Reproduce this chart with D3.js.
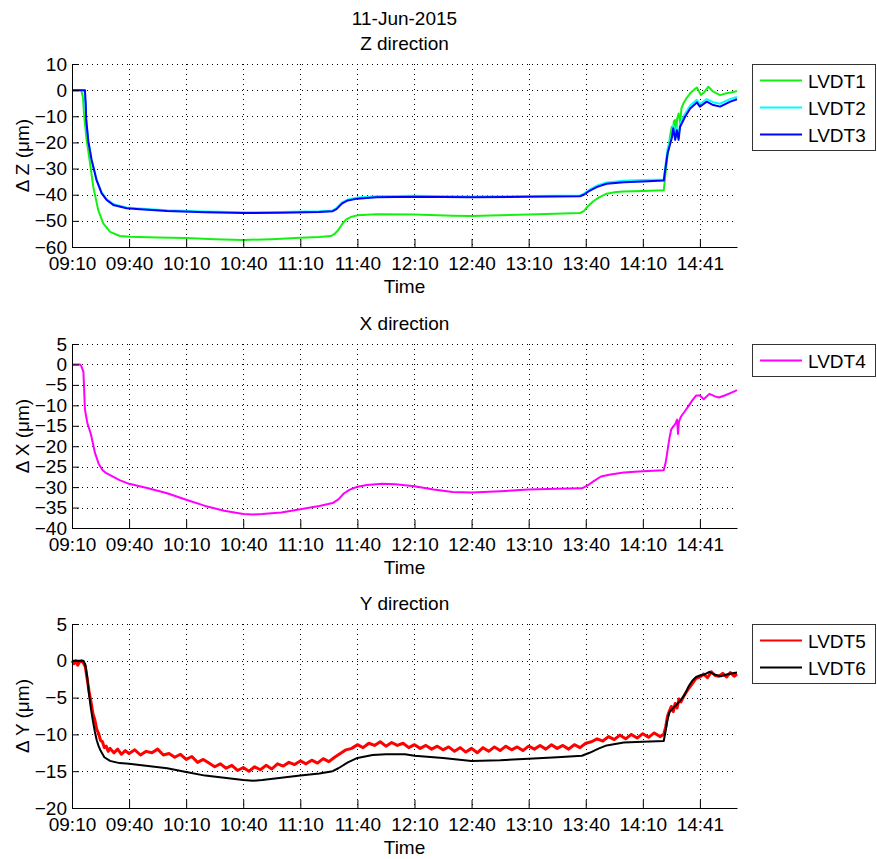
<!DOCTYPE html>
<html>
<head>
<meta charset="utf-8">
<script src="https://cdn.jsdelivr.net/npm/d3@7/dist/d3.min.js"></script>
<style>
  html, body { margin: 0; padding: 0; background: #fff; }
  svg { display: block; font-family: "Liberation Sans", Arial, Helvetica, sans-serif; }
  .axis text { font-size: 19px; fill: #000; font-family: "Liberation Sans", Arial, Helvetica, sans-serif; }
  .axis path, .axis line { stroke: #000; stroke-width: 1; }
  .grid line { stroke: #000; stroke-width: 1; stroke-dasharray: 1 4; }
</style>
</head>
<body>
<script>
// ---------- data ----------
const dateTitle = "11-Jun-2015";
const xTickMinutes = [0, 30, 60, 90, 120, 150, 180, 210, 240, 270, 300, 330];
const xTickLabels = ["09:10", "09:40", "10:10", "10:40", "11:10", "11:40", "12:10", "12:40", "13:10", "13:40", "14:10", "14:41"];
const xMaxMinutes = 349.5;

// Z direction
const t1 = [0,4,5,5.8,6.3,7.7,9.5,11.2,13.8,16.4,20,25.2,30.5,45,60,75,90,105,120,130,136,138,140,142,144,147,150,160,180,200,210,240,267,269,271,274,277,281,286,290,300,311,311.5,312.5,313.5,314.3,315.2,315.8,316.3,317,317.5,318,318.8,319.6,320.3,321.4,323,324.9,327,328.4,330.5,332,334.5,337,340.6,344,347,349.5];
const lvdt1 = [0,0,-0.3,-3,-8.9,-19.1,-28,-37,-45.9,-51,-54.2,-55.8,-56.1,-56.4,-56.6,-57,-57.3,-57,-56.5,-56.2,-55.8,-55,-53.5,-51.2,-49.5,-48.4,-47.9,-47.5,-47.6,-48,-48.1,-47.6,-47,-46.3,-44.5,-42.5,-41,-39.6,-39,-38.8,-38.6,-38.3,-35,-28,-22,-17.8,-14,-16.5,-12,-11.4,-17.8,-11,-8.9,-12.7,-7,-5,-3,-1.2,0.2,1,-1.8,-1,1.3,-0.6,-1.9,-1.2,-0.8,-0.3];

const t2 = [0,6.5,7,7.4,8.5,10.2,12.8,15.5,18,21.5,28.5,35.5,50,70,90,110,130,137,139,142,145,150,160,180,210,240,267,269,272,276,281,290,300,311,311.5,313,315.2,316,317,317.9,318.8,319.6,322.2,324.9,328.4,330,333.6,337,340.6,346,349.5];
const lvdt2 = [0,0,-5,-11,-19.2,-26.2,-33.9,-39,-41.6,-43.5,-44.9,-45.3,-45.9,-46.4,-46.7,-46.6,-46.3,-46,-45.1,-42.9,-41.8,-41.1,-40.6,-40.4,-40.7,-40.5,-40.3,-39.6,-38.1,-36.5,-35.3,-34.7,-34.4,-34.2,-31,-22.5,-17.2,-13.5,-17.5,-14.2,-17.8,-12.8,-9,-5.9,-3.7,-5.3,-3.4,-4.6,-5.2,-3.4,-2.6];

const t3 = [0,6.8,7.2,7.5,8.6,10.3,12.9,15.6,18.2,21.7,28.7,35.7,50,70,90,110,130,137,139,142,145,150,160,180,210,240,267,269,272,276,281,290,300,311,311.5,313,315.2,316,317,317.9,318.8,319.6,322.2,324.9,328.4,330,333.6,337,340.6,346,349.5];
const lvdt3 = [0,0,-5,-11.5,-19.7,-26.7,-34.4,-39.5,-42,-43.9,-45.2,-45.6,-46.2,-46.7,-47,-46.9,-46.6,-46.3,-45.5,-43.3,-42.2,-41.5,-41,-40.8,-41,-40.8,-40.6,-40,-38.5,-37,-35.8,-35.2,-34.9,-34.6,-32,-24.2,-18.4,-14.6,-19,-15.3,-19,-14,-10.2,-7,-4.7,-6.3,-4.4,-5.7,-6.3,-4.4,-3.5];

// X direction
const t4 = [0,4.2,5,6,6.8,8,10,12,14,16,18,25,30,40,50,60,70,80,90,95,100,110,120,130,137,140,143,146,150,155,163,170,180,190,200,210,225,240,255,268,271,274,278,283,290,300,311,312,313,314,315,316,317,318,318.5,319,320,322,324,326,328,330,332,335,338,340,343,346,349.5];
const lvdt4 = [0,0,-0.5,-1.8,-11,-14.2,-17.2,-21.5,-24.3,-25.8,-26.6,-28.3,-29.2,-30.3,-31.5,-33.1,-34.6,-35.8,-36.6,-36.7,-36.6,-36.2,-35.4,-34.6,-33.9,-33,-31.5,-30.6,-29.9,-29.5,-29.2,-29.3,-29.8,-30.6,-31.2,-31.3,-31,-30.6,-30.4,-30.3,-29.6,-28.6,-27.4,-26.9,-26.4,-26.1,-25.9,-24,-21,-18,-15.8,-15.2,-14.6,-13.5,-17,-14,-12.8,-11.5,-10.2,-8.8,-7.6,-7.6,-8.5,-7.2,-7.8,-8.1,-7.6,-7,-6.3];

// Y direction
const t5 = [0,1,2,3,4,5,6,7,8,9,10,11,12,13,14,15,16,17,18,19,20,22,24,26,28,30,33,36,39,42,45,48,51,54,57,60,63,66,69,72,75,78,81,84,87,90,93,96,99,102,105,108,111,114,117,120,123,126,129,132,135,138,141,144,147,150,153,156,159,162,165,168,171,174,177,180,183,186,189,192,195,198,201,204,207,210,213,216,219,222,225,228,231,234,237,240,243,246,249,252,255,258,261,264,267,270,273,276,279,282,285,288,291,294,297,300,303,306,309,311,312,313,314,315,316,317,318,319,320,322,324,326,328,330,332,334,336,338,340,342,344,346,348,349.5];
const lvdt5 = [0,-0.4,0,-0.6,-0.1,0,-0.3,-0.8,-2.5,-4.2,-5.6,-7.2,-8.0,-9.3,-9.9,-10.8,-11.0,-11.8,-11.6,-12.3,-11.9,-12.5,-12.0,-12.7,-12.2,-12.6,-12.1,-12.8,-12.3,-12.5,-12.0,-12.8,-12.6,-13.1,-12.7,-13.4,-13.0,-13.8,-13.4,-13.9,-14.4,-14.0,-14.6,-14.2,-14.9,-14.5,-15.0,-14.4,-14.8,-14.2,-14.7,-14.0,-14.3,-13.8,-14.1,-13.6,-14.0,-13.5,-13.9,-13.3,-13.7,-13.1,-12.6,-12.1,-11.9,-11.4,-11.8,-11.2,-11.5,-11.0,-11.6,-11.1,-11.5,-11.2,-11.8,-11.4,-11.9,-11.5,-12.0,-11.6,-12.1,-11.7,-12.3,-11.8,-12.4,-11.9,-12.5,-11.8,-12.3,-11.7,-12.2,-11.6,-12.1,-11.7,-12.2,-11.6,-12.0,-11.5,-12.0,-11.4,-11.9,-11.5,-12.0,-11.4,-11.8,-11.2,-11.0,-10.6,-10.9,-10.3,-10.7,-10.1,-10.6,-10.0,-10.5,-9.9,-10.4,-9.8,-10.3,-10.0,-9.0,-7.5,-6.8,-6.2,-6.9,-5.8,-6.4,-5.2,-5.6,-4.6,-3.8,-3.1,-2.4,-2.2,-1.8,-2.3,-1.5,-2.0,-2.1,-1.7,-2.2,-1.6,-2.1,-1.8];

const t6 = [0,6,7,8,9,10,11,12,13,14,15,17,20,25,30,40,50,60,70,80,90,95,100,110,120,130,137,140,145,150,158,165,175,180,195,210,225,240,255,268,272,277,281,290,300,311,312,313,314,316,318,320,322,324,326,328,330,332,335,338,341,345,349.5];
const lvdt6 = [0,0,-0.5,-2.2,-4.7,-6.6,-8.2,-9.6,-10.8,-11.6,-12.2,-13.1,-13.6,-13.9,-14.0,-14.3,-14.6,-15.1,-15.6,-15.9,-16.2,-16.3,-16.2,-15.9,-15.6,-15.3,-15.0,-14.6,-13.8,-13.2,-12.8,-12.7,-12.7,-12.9,-13.2,-13.6,-13.5,-13.3,-13.1,-12.9,-12.5,-11.9,-11.5,-11.1,-11.0,-10.9,-9.5,-8.0,-7.0,-6.4,-5.9,-5.3,-4.6,-3.5,-2.7,-2.2,-2.0,-1.9,-1.5,-1.9,-2.1,-1.8,-1.6];

const zTicks = [-60,-50,-40,-30,-20,-10,0,10];
const xdirTicks = [-40,-35,-30,-25,-20,-15,-10,-5,0,5];
const ydirTicks = [-20,-15,-10,-5,0,5];

// ---------- layout ----------
const W = 877, H = 859;
const svg = d3.select("body").append("svg").attr("width", W).attr("height", H);
const x = d3.scaleLinear().domain([0, xMaxMinutes]).range([72, 737]);
const FONT = 19;

const panels = [
  { top: 64, bottom: 247, domain: [-60, 10], ticks: zTicks, title: "Z direction", ylabel: "\u0394 Z (\u03bcm)",
    series: [ {name:"LVDT1", t:t1, v:lvdt1, color:"#14f014", w:2},
              {name:"LVDT2", t:t2, v:lvdt2, color:"#00ffff", w:2},
              {name:"LVDT3", t:t3, v:lvdt3, color:"#0000ff", w:2} ] },
  { top: 344, bottom: 528, domain: [-40, 5], ticks: xdirTicks, title: "X direction", ylabel: "\u0394 X (\u03bcm)",
    series: [ {name:"LVDT4", t:t4, v:lvdt4, color:"#ff00ff", w:2} ] },
  { top: 624, bottom: 808, domain: [-20, 5], ticks: ydirTicks, title: "Y direction", ylabel: "\u0394 Y (\u03bcm)",
    series: [ {name:"LVDT5", t:t5, v:lvdt5, color:"#ff0000", w:3},
              {name:"LVDT6", t:t6, v:lvdt6, color:"#000000", w:2} ] }
];

// main title
svg.append("text").attr("x", 404.5).attr("y", 25).attr("text-anchor", "middle")
  .attr("font-size", FONT).text(dateTitle);

panels.forEach(p => {
  const y = d3.scaleLinear().domain(p.domain).range([p.bottom, p.top]);
  const g = svg.append("g");

  // grid
  const grid = g.append("g").attr("class", "grid");
  grid.selectAll("line.v").data(xTickMinutes.filter(d => d > 0)).enter().append("line")
    .attr("x1", d => Math.round(x(d)) + 0.5).attr("x2", d => Math.round(x(d)) + 0.5)
    .attr("y1", p.top).attr("y2", p.bottom);
  grid.selectAll("line.h").data(p.ticks.filter(d => d > p.domain[0])).enter().append("line")
    .attr("x1", 72).attr("x2", 737)
    .attr("y1", d => Math.round(y(d)) + 0.5).attr("y2", d => Math.round(y(d)) + 0.5);

  // series
  const line = d3.line().x(d => x(d[0])).y(d => y(d[1]));
  p.series.forEach(s => {
    const pts = s.t.map((tt, i) => [tt, s.v[i]]);
    g.append("path").attr("d", line(pts)).attr("fill", "none")
      .attr("stroke", s.color).attr("stroke-width", s.w)
      .attr("stroke-linejoin", "round").attr("stroke-linecap", "butt");
  });

  // axes
  g.append("g").attr("class", "axis").attr("transform", `translate(0,${p.bottom})`)
    .call(d3.axisBottom(x).tickValues(xTickMinutes).tickFormat((d, i) => xTickLabels[i])
      .tickSizeInner(-8).tickSizeOuter(0).tickPadding(10));
  g.append("g").attr("class", "axis").attr("transform", `translate(72,0)`)
    .call(d3.axisLeft(y).tickValues(p.ticks).tickFormat(d3.format("d"))
      .tickSizeInner(-7).tickSizeOuter(0).tickPadding(5));

  // titles
  svg.append("text").attr("x", 404.5).attr("y", p.top - 14).attr("text-anchor", "middle")
    .attr("font-size", FONT).text(p.title);
  svg.append("text").attr("x", 404.5).attr("y", p.bottom + 46).attr("text-anchor", "middle")
    .attr("font-size", FONT).text("Time");
  svg.append("text").attr("transform", `translate(28.5,${(p.top + p.bottom) / 2}) rotate(-90)`)
    .attr("text-anchor", "middle").attr("font-size", FONT).text(p.ylabel);

  // legend
  const n = p.series.length;
  const lg = svg.append("g");
  lg.append("rect").attr("x", 752.5).attr("y", p.top + 0.5).attr("width", 123).attr("height", 27 * n + 5)
    .attr("fill", "#fff").attr("stroke", "#333").attr("stroke-width", 1);
  p.series.forEach((s, i) => {
    const cy = p.top + 16.5 + 27 * i;
    lg.append("line").attr("x1", 760).attr("x2", 802).attr("y1", cy).attr("y2", cy)
      .attr("stroke", s.color).attr("stroke-width", 2);
    lg.append("text").attr("x", 808).attr("y", cy + 7).attr("font-size", FONT).text(s.name);
  });
});
</script>
</body>
</html>
